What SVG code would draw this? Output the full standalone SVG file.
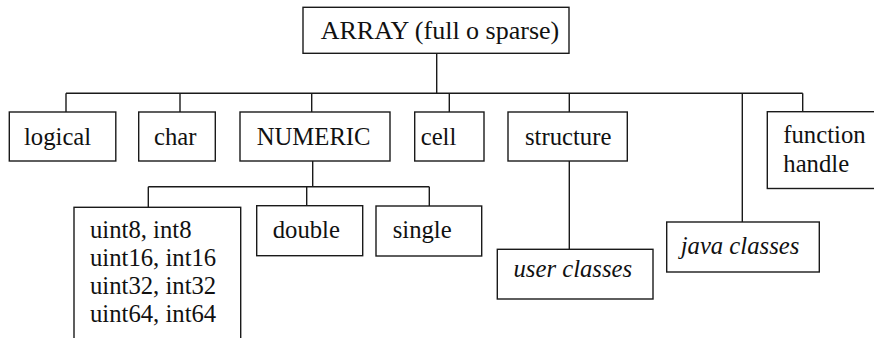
<svg xmlns="http://www.w3.org/2000/svg" width="874" height="338" viewBox="0 0 874 338">
  <style>
    .box { fill: #ffffff; stroke: #1a1a1a; stroke-width: 1.4; }
    .wire { fill: none; stroke: #1a1a1a; stroke-width: 1.4; }
    .lbl { font-family: 'Liberation Serif', 'Times New Roman', Times, serif; font-size: 24.7px; fill: #111111; }
    .big { font-size: 26px; }
    .it { font-style: italic; }
  </style>
  <rect width="874" height="338" fill="#ffffff"/>

  <!-- tree connectors -->
  <g id="connectors">
    <path class="wire" d="M436.7 53 V93.3 M66 93.3 H802.7"/>
    <path class="wire" d="M66 93.3 V112 M180 93.3 V112 M311.7 93.3 V112 M449.3 93.3 V112 M569.3 93.3 V112 M802.7 93.3 V112 M742.3 93.3 V222"/>
    <path class="wire" d="M569.3 161 V249.5"/>
    <path class="wire" d="M312.7 161 V186.7 M148.3 186.7 H429.3 M148.3 186.7 V210 M306.7 186.7 V206 M429.3 186.7 V206"/>
  </g>

  <g class="lbl">
  <g id="array">
    <rect class="box" x="303" y="7.3" width="266" height="46"/>
    <text class="big" x="320.7" y="38.5">ARRAY (full o sparse)</text>
  </g>

  <g id="logical">
    <rect class="box" x="9.3" y="112" width="106.5" height="49"/>
    <text x="24" y="145">logical</text>
  </g>

  <g id="char">
    <rect class="box" x="138.7" y="112" width="76.6" height="49"/>
    <text x="154" y="145">char</text>
  </g>

  <g id="numeric">
    <rect class="box" x="240" y="112" width="150" height="49"/>
    <text x="256.7" y="145">NUMERIC</text>
  </g>

  <g id="cell">
    <rect class="box" x="414.7" y="112" width="69.3" height="49"/>
    <text x="420.7" y="145">cell</text>
  </g>

  <g id="structure">
    <rect class="box" x="508" y="112" width="119.3" height="49"/>
    <text x="525" y="145">structure</text>
  </g>

  <g id="function-handle">
    <rect class="box" x="767.3" y="111.7" width="120" height="76.8"/>
    <text x="783.3" y="143.3">function</text>
    <text x="783.3" y="171.7">handle</text>
  </g>

  <g id="integers">
    <rect class="box" x="74" y="207.3" width="166.7" height="150"/>
    <text x="90" y="238.3">uint8, int8</text>
    <text x="90" y="266">uint16, int16</text>
    <text x="90" y="293.8">uint32, int32</text>
    <text x="90" y="322">uint64, int64</text>
  </g>

  <g id="double">
    <rect class="box" x="256.7" y="205.7" width="106" height="50"/>
    <text x="272.7" y="238.3">double</text>
  </g>

  <g id="single">
    <rect class="box" x="376" y="206" width="105.7" height="50"/>
    <text x="392.7" y="238.3">single</text>
  </g>

  <g id="user-classes">
    <rect class="box" x="497.3" y="249.3" width="155.7" height="49.7"/>
    <text class="it" x="513.5" y="277">user classes</text>
  </g>

  <g id="java-classes">
    <rect class="box" x="666.7" y="222" width="152.6" height="50"/>
    <text class="it" x="680.7" y="253.5">java classes</text>
  </g>
  </g>
</svg>
